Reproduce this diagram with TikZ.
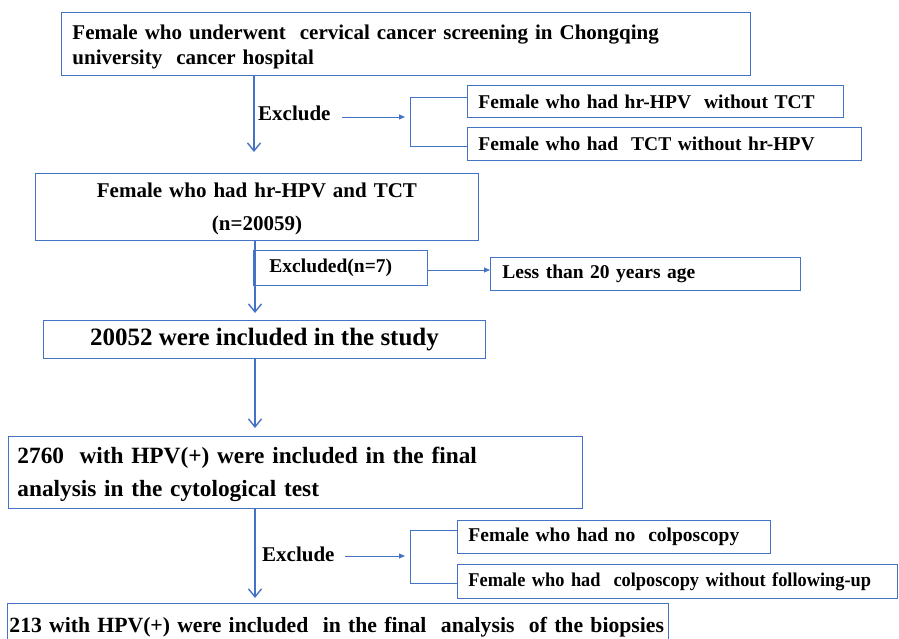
\documentclass[tikz,border=0pt]{standalone}
\usepackage{fontspec}
\setmainfont{Liberation Serif}
\usetikzlibrary{arrows.meta}
\definecolor{bl}{RGB}{68,114,196}
\begin{document}
\begin{tikzpicture}[x=1pt,y=-1pt,
  box/.style={draw=bl, line width=0.9pt, inner ysep=0pt, inner xsep=11pt, anchor=north west, align=left},
  cbox/.style={draw=bl, line width=0.9pt, inner sep=0pt, anchor=north west, align=center},
  arr/.style={draw=bl, line width=1.4pt, -{Straight Barb[length=8pt,width=13pt,line width=1.4pt]}},
  sarr/.style={draw=bl, line width=0.8pt, -{Triangle[length=6pt,width=5pt]}},
  brk/.style={draw=bl, line width=0.8pt},
  fa/.style={font=\bfseries\fontsize{21}{25}\selectfont},
  fs/.style={font=\bfseries\fontsize{19.5}{22}\selectfont}]
\useasboundingbox (0,0) rectangle (899,638);
% boxes
\node[box, fa, text width=667pt, minimum height=63pt] (b1) at (61,12)
  {\rule{0pt}{20pt}Female who underwent\ \ cervical cancer screening in Chongqing\\university\ \ cancer hospital};
\node[box, fs, text width=354pt, minimum height=32pt] (bA) at (467,85) {Female who had hr-HPV\ \ without TCT};
\node[box, fs, text width=372pt, minimum height=33pt] (bB) at (467,127) {Female who had\ \ TCT without hr-HPV};
\node[cbox, font=\bfseries\fontsize{21}{33}\selectfont, minimum width=443pt, minimum height=67pt, text width=443pt] (b2) at (35,173)
  {\rule{0pt}{19pt}Female who had hr-HPV and TCT\\(n=20059)};
\node[box, fs, inner xsep=16pt, text width=142pt, minimum height=35pt] (bE) at (253,250) {Excluded(n=7)};
\node[box, fs, inner xsep=12pt, text width=286pt, minimum height=33pt] (bL) at (490,257) {Less than 20 years age};
\node[cbox, font=\bfseries\fontsize{25}{28}\selectfont, minimum width=442pt, minimum height=38pt] (b3) at (43,320)
  {20052 were included in the study};
\node[box, font=\bfseries\fontsize{23.3}{33}\selectfont, inner xsep=9pt, text width=556pt, minimum height=72pt] (b4) at (8,436)
  {\rule{0pt}{21pt}2760\ \ with HPV(+) were included in the final\\analysis in the cytological test};
\node[box, fs, text width=291pt, minimum height=33pt] (bC) at (457,520) {Female who had no\ \ colposcopy};
\node[box, font=\bfseries\fontsize{19.5}{22}\selectfont\addfontfeature{FakeStretch=0.94}, text width=418pt, minimum height=34pt] (bD) at (457,564) {Female who had\ \ colposcopy without following-up};
\node[box, font=\bfseries\fontsize{21.7}{24}\selectfont, inner xsep=2pt, text width=657pt, minimum height=47pt] (b5) at (7,603)
  {213 with HPV(+) were included\ \ in the final\ \ analysis\ \ of the biopsies};
% labels
\node[fa, anchor=west, inner sep=0pt] (ex1) at (258,113) {Exclude};
\node[fa, anchor=west, inner sep=0pt] (ex2) at (262,554) {Exclude};
% coordinates
\coordinate (a1) at (254,152);
\coordinate (a2) at (255,313);
\coordinate (a3) at (255,428);
\coordinate (a4) at (255,598);
\coordinate (s1) at (342,117);
\coordinate (k1) at (405,117);
\coordinate (s2) at (345,556);
\coordinate (k2) at (405,556);
\coordinate (s3) at (428,270);
\coordinate (t1) at (410,97);
\coordinate (u1) at (410,146);
\coordinate (t2) at (410,530);
\coordinate (u2) at (410,583);
% main arrows
\draw[arr] (b1.south -| a1) -- (a1);
\draw[arr] (b2.south -| a2) -- (a2);
\draw[arr] (b3.south -| a3) -- (a3);
\draw[arr] (b4.south -| a4) -- (a4);
% side arrows
\draw[sarr] (s1) -- (k1);
\draw[sarr] (s2) -- (k2);
\draw[sarr] (s3) -- (bL.west |- s3);
% brackets
\draw[brk] (bA.west |- t1) -- (t1) -- (u1) -- (bB.west |- u1);
\draw[brk] (bC.west |- t2) -- (t2) -- (u2) -- (bD.west |- u2);
\end{tikzpicture}
\end{document}
